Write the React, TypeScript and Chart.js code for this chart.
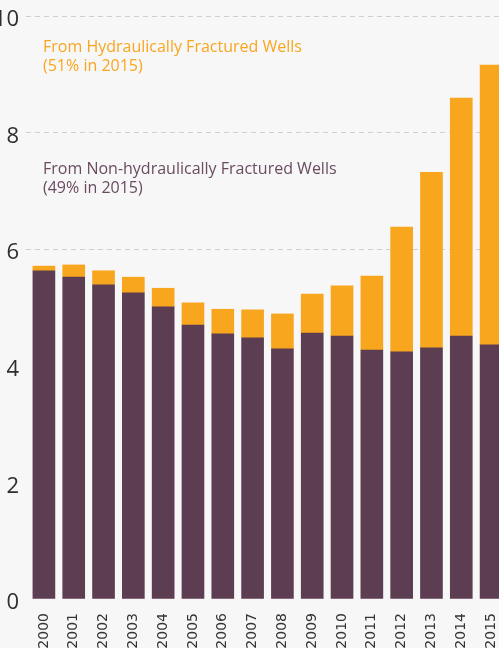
import React, { useEffect, useRef } from "react";
import { Chart, registerables } from "chart.js";

Chart.register(...registerables);

const years = ["2000","2001","2002","2003","2004","2005","2006","2007","2008","2009","2010","2011","2012","2013","2014","2015"];
const nonHydraulic = [5.63,5.52,5.39,5.25,5.01,4.70,4.55,4.48,4.29,4.56,4.51,4.27,4.24,4.31,4.51,4.36];
const hydraulic = [0.08,0.21,0.24,0.27,0.32,0.38,0.42,0.48,0.60,0.67,0.86,1.27,2.14,3.01,4.08,4.80];
const yTicks = [0, 2, 4, 6, 8, 10];
const orangeNote = ["From Hydraulically Fractured Wells", "(51% in 2015)"];
const purpleNote = ["From Non-hydraulically Fractured Wells", "(49% in 2015)"];

const PURPLE = "#5c3d52";
const ORANGE = "#f9a61f";
const BG = "#f7f7f7";
const GRID = "#cfcfcf";

export default function App() {
  const ref = useRef<HTMLCanvasElement | null>(null);

  useEffect(() => {
    if (!ref.current) return;
    const notes = {
      id: "notes",
      afterDraw(chart: any) {
        const ctx = chart.ctx;
        ctx.save();
        ctx.font = "16px 'Open Sans'";
        ctx.textAlign = "left";
        ctx.textBaseline = "middle";
        ctx.fillStyle = ORANGE;
        ctx.fillText(orangeNote[0], 43, 47);
        ctx.fillText(orangeNote[1], 43, 66);
        ctx.fillStyle = "#6a4b60";
        ctx.fillText(purpleNote[0], 43, 169);
        ctx.fillText(purpleNote[1], 43, 188);
        ctx.restore();
      },
    };
    const gridColor = (c: any) => (c.tick && c.tick.value >= 6 ? GRID : "rgba(0,0,0,0)");
    const chart = new Chart(ref.current, {
      type: "bar",
      data: {
        labels: years,
        datasets: [
          { label: "Non-hydraulic", data: nonHydraulic, backgroundColor: PURPLE, barThickness: 22, borderWidth: 0 },
          { label: "Hydraulic", data: hydraulic, backgroundColor: ORANGE, barThickness: 22, borderWidth: 0 },
        ],
      },
      options: {
        responsive: false,
        animation: false,
        layout: { padding: { top: 16, left: 0, right: 0, bottom: 0 } },
        plugins: { legend: { display: false }, tooltip: { enabled: false } },
        scales: {
          x: {
            stacked: true,
            grid: { display: false, drawTicks: false },
            border: { display: false },
            ticks: {
              autoSkip: false,
              maxRotation: 90,
              minRotation: 90,
              padding: 14,
              color: "#333333",
              font: { family: "'DejaVu Sans'", size: 14 },
            },
            afterFit(scale: any) {
              scale.height = 49;
              scale.paddingLeft = 0;
              scale.paddingRight = 0;
            },
          },
          y: {
            stacked: true,
            min: 0,
            max: 10,
            afterBuildTicks(scale: any) {
              scale.ticks = yTicks.map((v) => ({ value: v }));
            },
            grid: {
              color: gridColor,
              lineWidth: 1,
              drawTicks: true,
              tickLength: 3,
              tickColor: gridColor,
              tickBorderDash: [3, 0],
            },
            border: { display: false, dash: [5, 4], dashOffset: 3 },
            ticks: {
              padding: 7,
              labelOffset: 4,
              color: "#2e2e2e",
              font: { family: "'Open Sans'", size: 22 },
            },
            afterFit(scale: any) {
              scale.width = 29;
              scale.paddingTop = 0;
              scale.paddingBottom = 0;
            },
          },
        },
      },
      plugins: [notes],
    });
    return () => chart.destroy();
  }, []);

  return (
    <div style={{ position: "fixed", left: 0, top: 0, width: 499, height: 648, overflow: "hidden", background: BG }}>
      <canvas ref={ref} width={506} height={648} style={{ display: "block" }} />
    </div>
  );
}
